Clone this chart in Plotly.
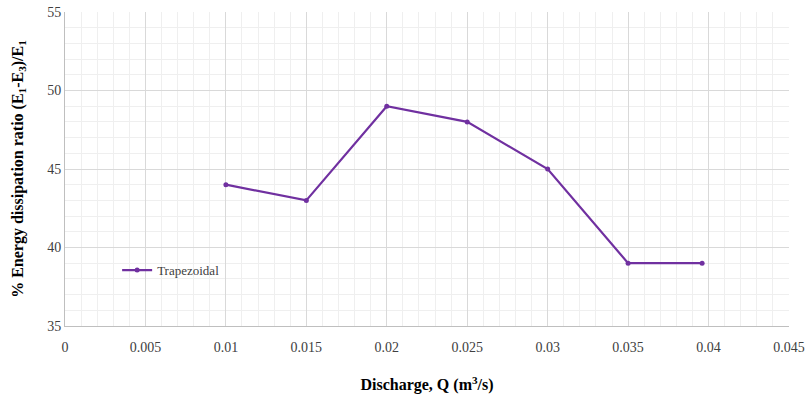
import plotly.graph_objects as go

discharge = [0.010, 0.015, 0.020, 0.025, 0.030, 0.035, 0.0396]
dissipation = [44, 43, 49, 48, 45, 39, 39]
x_ticks = [0, 0.005, 0.01, 0.015, 0.02, 0.025, 0.03, 0.035, 0.04, 0.045]
x_tick_labels = ["0", "0.005", "0.01", "0.015", "0.02", "0.025", "0.03", "0.035", "0.04", "0.045"]
y_ticks = [35, 40, 45, 50, 55]

font_family = "Liberation Serif, Times New Roman, serif"
purple = "#7030A0"

fig = go.Figure()
fig.add_trace(go.Scatter(
    x=discharge, y=dissipation, mode="lines+markers", name="Trapezoidal",
    line=dict(color=purple, width=2.2),
    marker=dict(color=purple, size=5),
))

fig.update_layout(
    width=806, height=398,
    margin=dict(l=65, r=17, t=12, b=72),
    paper_bgcolor="white", plot_bgcolor="white",
    font=dict(family=font_family, size=14, color="#404040"),
    showlegend=True,
    legend=dict(x=0.072, y=0.178, xanchor="left", yanchor="middle",
                bgcolor="rgba(0,0,0,0)", font=dict(size=13, color="#404040"),
                itemwidth=30),
    xaxis=dict(
        range=[0, 0.045], tickvals=x_ticks, ticktext=x_tick_labels,
        automargin=False, ticklabeloverflow="allow",
        showgrid=True, gridcolor="#D9D9D9", gridwidth=1,
        minor=dict(dtick=0.001, showgrid=True, gridcolor="#EFEFEF", gridwidth=1),
        showline=True, linecolor="#BFBFBF", linewidth=1,
        ticks="", zeroline=False, ticklabelstandoff=8,
        title=dict(text="<b>Discharge, Q (m<sup>3</sup>/s)</b>", standoff=25,
                   font=dict(size=16, color="black")),
        tickfont=dict(size=14, color="#404040"),
    ),
    yaxis=dict(
        range=[35, 55], tickvals=y_ticks,
        automargin=False, ticklabeloverflow="allow",
        showgrid=True, gridcolor="#D9D9D9", gridwidth=1,
        minor=dict(dtick=1, showgrid=True, gridcolor="#EFEFEF", gridwidth=1),
        showline=True, linecolor="#BFBFBF", linewidth=1,
        ticks="", zeroline=False,
        title=dict(text="<b>% Energy dissipation ratio (E<sub>1</sub>-E<sub>3</sub>)/E<sub>1</sub></b>",
                   standoff=19, font=dict(size=16, color="black")),
        tickfont=dict(size=14, color="#404040"),
    ),
)

fig.write_html(
    "out.html",
    config={"displayModeBar": False},
    post_script="document.body.style.margin='0';document.body.style.overflow='hidden';",
)
